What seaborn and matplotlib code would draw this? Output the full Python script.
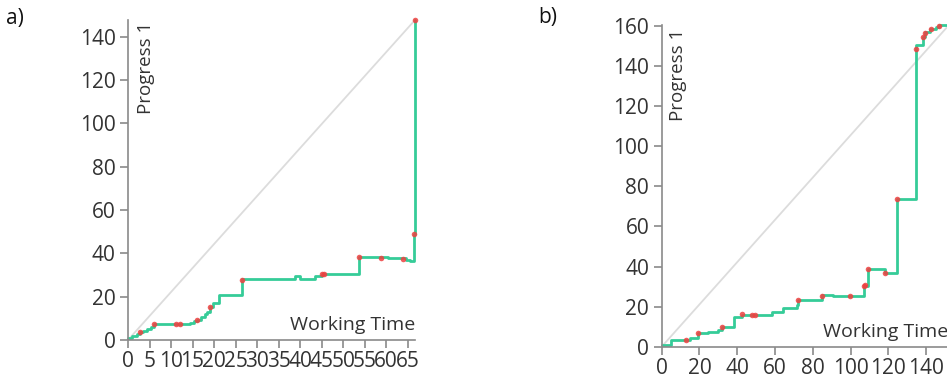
import matplotlib
matplotlib.use("Agg")
import matplotlib.pyplot as plt
import seaborn as sns
import pandas as pd

# ---------------- data ----------------
# Panel a: cumulative progress (step function) vs working time
time_a = [0, 1.0, 2.0, 2.8, 3.6, 4.5, 5.3, 6.0, 14.4, 15.3, 16.0, 17.0, 17.9, 18.4,
          19.1, 19.8, 21.2, 26.5, 38.8, 40.0, 43.5, 45.0, 53.6, 60.5, 64.5, 65.6,
          66.5, 66.6]
prog_a = [1.0, 1.8, 2.6, 3.5, 4.3, 5.2, 6.2, 7.2, 8.0, 8.8, 9.2, 10.7, 11.8, 13.0,
          15.3, 16.9, 21.0, 28.0, 29.5, 28.2, 29.6, 30.4, 38.1, 37.8, 37.0, 36.5,
          48.7, 147.7]
event_time_a = [2.8, 6.0, 11.2, 12.0, 16.0, 19.1, 26.6, 45.0, 45.6, 53.6, 58.8,
                63.8, 66.5, 66.6]
event_prog_a = [3.5, 7.2, 7.2, 7.2, 9.2, 15.3, 27.9, 30.4, 30.4, 38.1, 37.9,
                37.6, 48.7, 147.7]

# Panel b
time_b = [0, 4.9, 15.0, 19.0, 24.7, 30.0, 31.8, 38.3, 42.7, 58.3, 64.5, 71.5,
          72.4, 84.8, 90.9, 107.2, 109.0, 118.0, 124.5, 134.6, 138.6, 139.4,
          142.2, 145.4, 147.1, 152.0]
prog_b = [1.0, 3.3, 4.5, 6.7, 7.5, 8.3, 10.0, 15.0, 16.0, 17.5, 19.2, 20.8,
          23.3, 25.8, 25.3, 30.5, 38.6, 36.9, 73.7, 150.5, 154.3, 157.0,
          158.3, 159.3, 160.3, 160.3]
event_time_b = [12.7, 19.0, 31.8, 42.7, 48.0, 49.4, 72.4, 84.8, 99.8, 107.2,
                107.6, 109.0, 118.0, 124.5, 134.6, 138.6, 139.5, 142.4, 147.1]
event_prog_b = [3.5, 6.7, 10.0, 16.2, 15.8, 15.8, 23.3, 25.4, 25.3, 30.3,
                31.0, 38.6, 36.9, 73.7, 148.3, 154.3, 156.6, 158.3, 160.1]

xticks_a = list(range(0, 66, 5))
yticks_a = list(range(0, 141, 20))
xticks_b = list(range(0, 141, 20))
yticks_b = list(range(0, 161, 20))

# ---------------- style ----------------
sns.set_style("ticks")
plt.rcParams["font.family"] = ["Open Sans", "DejaVu Sans"]

GREEN = "#35cc98"
RED = "#ee4040"
GREY = "#8a8a8a"
TEXT = "#333333"
W, H = 947, 375

fig = plt.figure(figsize=(W / 100, H / 100), dpi=100)

def panel(rect, t, p, et, ep, xt, yt, xmax, ymax, lab_off, lab_top, letter, letter_xy):
    ax = fig.add_axes(rect)
    df_line = pd.DataFrame({"t": t, "p": p})
    df_ev = pd.DataFrame({"t": et, "p": ep})
    df_diag = pd.DataFrame({"t": [0, xmax], "p": [0, max(p)]})
    sns.lineplot(data=df_diag, x="t", y="p", ax=ax, color="#dcdcdc", lw=1.3,
                 estimator=None, sort=False)
    sns.lineplot(data=df_line, x="t", y="p", ax=ax, color=GREEN, lw=2.0,
                 drawstyle="steps-post", estimator=None, sort=False)
    sns.scatterplot(data=df_ev, x="t", y="p", ax=ax, color=RED, s=16,
                    linewidth=0, alpha=0.85, zorder=5)
    for ln in ax.lines:
        ln.set_clip_on(False)
    for c in ax.collections:
        c.set_clip_on(False)
    ax.set_xlim(0, xmax)
    ax.set_ylim(0, ymax)
    ax.set_xticks(xt)
    ax.set_yticks(yt)
    ax.set_xlabel("")
    ax.set_ylabel("")
    for s in ("top", "right"):
        ax.spines[s].set_visible(False)
    for s in ("left", "bottom"):
        ax.spines[s].set_color(GREY)
        ax.spines[s].set_linewidth(1.2)
    ax.tick_params(axis="both", colors=GREY, labelcolor=TEXT, labelsize=15,
                   length=6, width=1.2, direction="out")
    ax.tick_params(axis="x", pad=2)
    ax.tick_params(axis="y", pad=3)
    ax.annotate("Working Time", xy=(1, 0), xycoords="axes fraction",
                xytext=(0, 10), textcoords="offset pixels", ha="right",
                va="baseline", fontsize=14, color=TEXT, annotation_clip=False)
    ax.annotate("Progress 1", xy=(0, 1), xycoords="axes fraction",
                xytext=(lab_off, lab_top), textcoords="offset pixels",
                ha="left", va="top", rotation=90, fontsize=13.5, color=TEXT)
    fig.text(letter_xy[0] / W, 1 - letter_xy[1] / H, letter, ha="left", va="top",
             fontsize=15, color="#111111")
    return ax

# panel a: axes from x=128..415 px, y=20..340 px
panel([128 / W, 1 - 340 / H, 287 / W, 320 / H],
      time_a, prog_a, event_time_a, event_prog_a, xticks_a, yticks_a,
      66.7, 147.7, 9, -2, "a)", (6, 8))

# panel b: axes from x=661.7.. (extends past the figure), y=25.3..346.7 px
panel([661.7 / W, 1 - 346.7 / H, 287 / W, 321.4 / H],
      time_b, prog_b, event_time_b, event_prog_b, xticks_b, yticks_b,
      152.0, 160.3, 7, -3, "b)", (538, 7))

fig.savefig("out.png", dpi=100)
